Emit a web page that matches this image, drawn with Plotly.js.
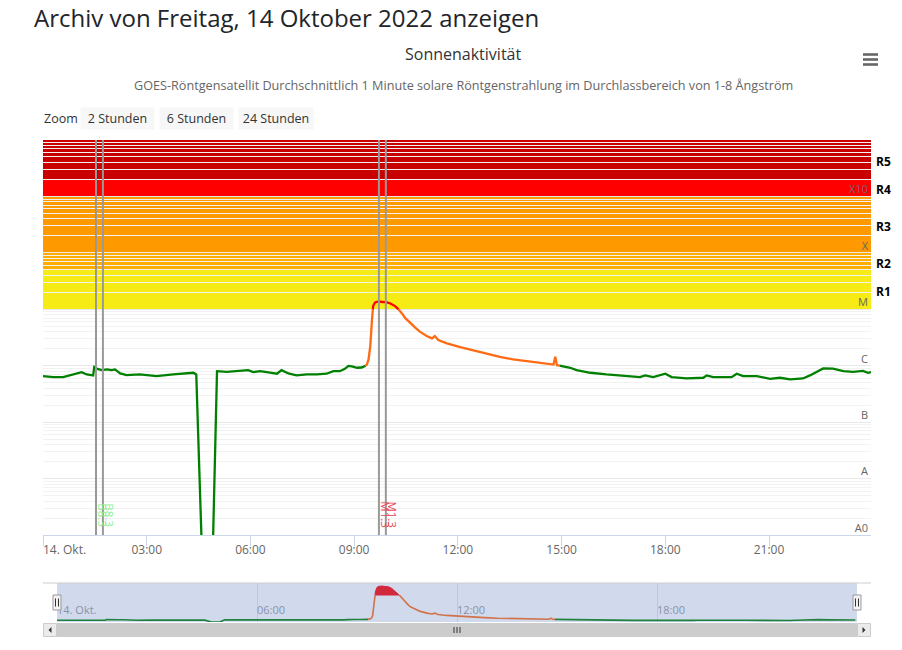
<!DOCTYPE html>
<html><head><meta charset="utf-8">
<script src="https://cdn.plot.ly/plotly-3.0.1.min.js"></script>
<style>html,body{margin:0;padding:0;background:#fff}#chart{width:902px;height:650px}</style>
</head><body><div id="chart"></div>
<script>
// ---- data ----
const times = ['00:00','00:18','00:35','00:47','00:58','01:07','01:16','01:27','01:29','01:33','01:42','01:51','01:59','02:05','02:14','02:25','02:48','03:17','03:46','04:09','04:21','04:26','04:38','04:53','05:02','05:19','05:42','05:56','06:05','06:17','06:34','06:46','06:54','07:06','07:20','07:38','07:55','08:12','08:24','08:35','08:44','08:50','08:56','09:05','09:13','09:18','09:22','09:25','09:28','09:31','09:33','09:36','09:39','09:45','09:51','09:57','10:02','10:06','10:11','10:16','10:20','10:24','10:28','10:33','10:37','10:42','10:46','10:54','11:06','11:15','11:20','11:26','11:41','12:04','12:27','12:50','13:13','13:36','14:00','14:23','14:46','14:49','14:52','15:15','15:26','15:50','16:18','16:47','17:16','17:25','17:39','18:00','18:11','18:37','19:06','19:12','19:23','19:55','20:04','20:15','20:39','21:02','21:19','21:37','21:59','22:11','22:29','22:34','22:51','23:09','23:26','23:43','23:52','23:57'];
const flux = [6.53e-7,6.27e-7,6.27e-7,6.81e-7,7.21e-7,7.7e-7,7.0e-7,6.73e-7,9.45e-7,8.85e-7,8.35e-7,8.6e-7,8.35e-7,8.6e-7,7.3e-7,6.81e-7,7.0e-7,6.53e-7,7.0e-7,7.21e-7,7.51e-7,7.0e-7,1e-10,1e-10,8.02e-7,7.8e-7,8.02e-7,8.35e-7,7.7e-7,8.02e-7,7.51e-7,7.21e-7,8.35e-7,7.3e-7,6.73e-7,7.0e-7,7.0e-7,7.21e-7,8.02e-7,8.0e-7,8.8e-7,9.9e-7,9.7e-7,9.2e-7,9.3e-7,9.6e-7,1.05e-6,1.29e-6,2.23e-6,6.64e-6,1.14e-5,1.31e-5,1.35e-5,1.36e-5,1.35e-5,1.33e-5,1.28e-5,1.21e-5,1.14e-5,1.02e-5,9.3e-6,8.2e-6,7.1e-6,6.3e-6,5.64e-6,5.15e-6,4.73e-6,4.02e-6,3.36e-6,3.05e-6,3.36e-6,2.85e-6,2.49e-6,2.14e-6,1.87e-6,1.65e-6,1.44e-6,1.29e-6,1.21e-6,1.13e-6,1.05e-6,1.44e-6,1.02e-6,9.2e-7,8.35e-7,7.5e-7,7.0e-7,6.53e-7,6.27e-7,6.73e-7,6.3e-7,7.2e-7,6.3e-7,5.95e-7,6.12e-7,6.73e-7,6.3e-7,6.27e-7,7.2e-7,6.53e-7,6.53e-7,5.87e-7,6.12e-7,5.71e-7,5.95e-7,6.73e-7,8.6e-7,8.95e-7,8.85e-7,8.02e-7,7.8e-7,8.1e-7,7.5e-7,7.7e-7];

const zoneThresholds = [1e-6, 1e-5];
const zoneColors = ['#008000', '#ff6a13', '#ff0000'];

const yTickVals = [1e-9, 1e-8, 1e-7, 1e-6, 1e-5, 1e-4, 1e-3];
const yTickText = ['A0', 'A', 'B', 'C', 'M', 'X', 'X10'];
const yRange = [1e-9, 1e-2];

const xTickTimes = ['00:00','03:00','06:00','09:00','12:00','15:00','18:00','21:00'];
const xTickText = ['', '03:00','06:00','09:00','12:00','15:00','18:00','21:00'];
const firstTickLabel = '14. Okt.';
const navTickTimes = ['00:00','06:00','12:00','18:00'];
const navTickText = ['14. Okt.','06:00','12:00','18:00'];
const navRange = ['00:00','24:00'];

const bandLow = [1e-5, 5e-5, 1e-4, 1e-3, 2e-3];
const bandHigh = [5e-5, 1e-4, 1e-3, 2e-3, 1e-2];
const bandColor = ['#f6eb14', '#ffae00', '#ff9900', '#ff0000', '#c80000'];
const bandLabel = ['R1', 'R2', 'R3', 'R4', 'R5'];

const flareStart = ['01:32', '09:43'];
const flareEnd = ['01:44', '09:55'];
const flareClass = ['B8.3', 'M1.3'];
const flareColor = ['#90ee90', '#e8434f'];

const headingText = 'Archiv von Freitag, 14 Oktober 2022 anzeigen';
const titleText = 'Sonnenaktivität';
const subtitleText = 'GOES-Röntgensatellit Durchschnittlich 1 Minute solare Röntgenstrahlung im Durchlassbereich von 1-8 Ångström';
const zoomLabel = 'Zoom';
const zoomButtons = ['2 Stunden', '6 Stunden', '24 Stunden'];

// ---- helpers ----
const W = 902, H = 650;
const T = s => { const p = s.split(':').map(Number); return Date.UTC(2022, 9, 14, p[0], p[1]); };
const px = x => x / W;
const py = y => 1 - y / H;
const xs = times.map(T);
const xFirst = xs[0], xLast = xs[xs.length - 1];

function splitZones(xv, vv, th) {
  const out = th.concat([0]).map(() => ({x: [], y: []}));
  const zoneOf = v => { let k = 0; while (k < th.length && v >= th[k]) k++; return k; };
  for (let i = 0; i < xv.length; i++) {
    const z = zoneOf(vv[i]);
    if (i > 0) {
      const zp = zoneOf(vv[i - 1]);
      if (zp !== z) {
        const lo = Math.min(zp, z), hi = Math.max(zp, z);
        let cr = [];
        for (let k = lo; k < hi; k++) {
          const t = th[k];
          const f = (Math.log(t) - Math.log(vv[i - 1])) / (Math.log(vv[i]) - Math.log(vv[i - 1]));
          cr.push({x: xv[i - 1] + f * (xv[i] - xv[i - 1]), y: t});
        }
        if (z < zp) cr.reverse();
        let cur = zp;
        for (const c of cr) {
          out[cur].x.push(c.x, null); out[cur].y.push(c.y, null);
          cur = z > zp ? cur + 1 : cur - 1;
          out[cur].x.push(c.x); out[cur].y.push(c.y);
        }
      }
    }
    out[z].x.push(xv[i]); out[z].y.push(vv[i]);
  }
  return out;
}

const zones = splitZones(xs, flux, zoneThresholds);
const traces = [];
zones.forEach((z, k) => {
  traces.push({x: z.x, y: z.y, xaxis: 'x', yaxis: 'y', type: 'scatter', mode: 'lines',
    line: {color: zoneColors[k], width: 2.3}, hoverinfo: 'skip', showlegend: false});
});
// navigator
zones.forEach((z, k) => {
  const isTop = k === zones.length - 1;
  traces.push({x: z.x, y: z.y, xaxis: 'x2', yaxis: 'y2', type: 'scatter', mode: 'lines',
    line: {color: zoneColors[k], width: isTop ? 1 : 1.6},
    fill: isTop ? 'toself' : 'none', fillcolor: zoneColors[k],
    hoverinfo: 'skip', showlegend: false});
});
const fluxMax = Math.max.apply(null, flux);

// ---- shapes ----
const shapes = [];
bandLow.forEach((lo, i) => {
  shapes.push({type: 'rect', xref: 'x domain', yref: 'y', x0: 0, x1: 1,
    y0: lo, y1: bandHigh[i], fillcolor: bandColor[i],
    line: {width: 0}, layer: 'below'});
});
flareStart.forEach((s, i) => {
  [s, flareEnd[i]].forEach(t => {
    shapes.push({type: 'line', xref: 'x', yref: 'y domain', x0: T(t), x1: T(t), y0: 0, y1: 1,
      line: {color: '#999999', width: 2}, layer: 'above'});
  });
});
// hamburger menu
[54.5, 59.5, 64.5].forEach(y => {
  shapes.push({type: 'line', xref: 'paper', yref: 'paper', x0: px(863), x1: px(878), y0: py(y), y1: py(y),
    line: {color: '#666666', width: 2.6}});
});
// navigator mask + outline
shapes.push({type: 'rect', xref: 'x2 domain', yref: 'y2 domain', x0: 0, x1: 1, y0: 0, y1: 1,
  fillcolor: 'rgba(102,133,194,0.3)', line: {width: 0}, layer: 'above'});
shapes.push({type: 'line', xref: 'paper', yref: 'paper', x0: px(43), x1: px(871), y0: py(583), y1: py(583),
  line: {color: '#cccccc', width: 1}, layer: 'above'});
// navigator handles
[0, 1].forEach(a => {
  shapes.push({type: 'rect', xref: 'x2 domain', xsizemode: 'pixel', xanchor: a, x0: -4, x1: 4,
    yref: 'y2 domain', ysizemode: 'pixel', yanchor: 0.5, y0: -7.5, y1: 7.5,
    fillcolor: '#f2f2f2', line: {color: '#999999', width: 1}, layer: 'above'});
  [-1.5, 1.5].forEach(d => {
    shapes.push({type: 'line', xref: 'x2 domain', xsizemode: 'pixel', xanchor: a, x0: d, x1: d,
      yref: 'y2 domain', ysizemode: 'pixel', yanchor: 0.5, y0: -4, y1: 4,
      line: {color: '#333333', width: 1}, layer: 'above'});
  });
});
// scrollbar
shapes.push({type: 'rect', xref: 'paper', yref: 'paper', x0: px(43), x1: px(871), y0: py(637), y1: py(623),
  fillcolor: '#f2f2f2', line: {width: 0}});
shapes.push({type: 'rect', xref: 'paper', yref: 'paper', x0: px(57), x1: px(857), y0: py(637), y1: py(623),
  fillcolor: '#cccccc', line: {width: 0}});
[[43, 57], [857, 871]].forEach(b => {
  shapes.push({type: 'rect', xref: 'paper', yref: 'paper', x0: px(b[0] + 0.5), x1: px(b[1] - 0.5), y0: py(636.5), y1: py(623.5),
    fillcolor: '#ebebeb', line: {color: '#cccccc', width: 1}});
});
shapes.push({type: 'path', xref: 'paper', yref: 'paper', fillcolor: '#333333', line: {width: 0},
  path: 'M' + px(48.5) + ',' + py(630) + ' L' + px(51.5) + ',' + py(627) + ' L' + px(51.5) + ',' + py(633) + ' Z'});
shapes.push({type: 'path', xref: 'paper', yref: 'paper', fillcolor: '#333333', line: {width: 0},
  path: 'M' + px(865.5) + ',' + py(630) + ' L' + px(862.5) + ',' + py(627) + ' L' + px(862.5) + ',' + py(633) + ' Z'});
[454, 457, 460].forEach(x => {
  shapes.push({type: 'line', xref: 'paper', yref: 'paper', x0: px(x), x1: px(x), y0: py(627), y1: py(633),
    line: {color: '#333333', width: 1}});
});

// ---- annotations ----
const ann = [];
ann.push({text: headingText, xref: 'paper', yref: 'paper', x: px(32), y: py(17), xanchor: 'left', yanchor: 'middle',
  showarrow: false, font: {family: 'Open Sans', size: 24, weight: 500, color: '#212529'}});
ann.push({text: titleText, xref: 'paper', yref: 'paper', x: px(463), y: py(54), xanchor: 'center', yanchor: 'middle',
  showarrow: false, font: {size: 16, color: '#333333'}});
ann.push({text: subtitleText, xref: 'paper', yref: 'paper', x: px(463), y: py(85), xanchor: 'center', yanchor: 'middle',
  showarrow: false, font: {size: 12.65, color: '#666666'}});
ann.push({text: zoomLabel, xref: 'paper', yref: 'paper', x: px(42), y: py(118.5), xanchor: 'left', yanchor: 'middle',
  showarrow: false, font: {size: 12.5, color: '#333333'}});
let bx = 81;
const bw = [73, 73, 74];
zoomButtons.forEach((b, i) => {
  ann.push({text: b, xref: 'paper', yref: 'paper', x: px(bx + bw[i] / 2), y: py(118.5), xanchor: 'center', yanchor: 'middle',
    width: bw[i] - 2, height: 19, bgcolor: '#f7f7f7', showarrow: false, font: {size: 12.5, color: '#333333'}});
  bx += bw[i] + 6;
});
bandLabel.forEach((l, i) => {
  ann.push({text: '<b>' + l + '</b>', xref: 'paper', yref: 'y', x: px(874), xanchor: 'left', yanchor: 'middle',
    y: (Math.log10(bandLow[i]) + Math.log10(bandHigh[i])) / 2, yshift: -2, showarrow: false,
    font: {size: 12, color: '#000000'}});
});
ann.push({text: firstTickLabel, xref: 'x', yref: 'paper', x: xFirst, y: py(549), xanchor: 'left', yanchor: 'middle',
  xshift: -2, showarrow: false, font: {size: 12, color: '#666666'}});
flareStart.forEach((s, i) => {
  [s, flareEnd[i]].forEach(t => {
    ann.push({text: flareClass[i], xref: 'x', yref: 'y domain', x: T(t), y: 0.05, xanchor: 'center', yanchor: 'middle',
      xshift: 7, textangle: 90, showarrow: false, font: {size: 11.5, color: flareColor[i]}});
  });
});

const layout = {
  width: W, height: H, margin: {l: 0, r: 0, t: 0, b: 0},
  paper_bgcolor: '#ffffff', plot_bgcolor: 'rgba(0,0,0,0)',
  font: {family: 'Open Sans', color: '#333333'},
  showlegend: false,
  xaxis: {type: 'date', domain: [px(43), px(871)], range: [xFirst, xLast], anchor: 'y',
    tickmode: 'array', tickvals: xTickTimes.map(T), ticktext: xTickText,
    ticks: 'outside', ticklen: 10, tickcolor: '#ccd6eb', tickwidth: 1, ticklabelstandoff: -6,
    showline: true, linecolor: '#ccd6eb', linewidth: 1, showgrid: false, zeroline: false,
    tickfont: {size: 12, color: '#666666'}, fixedrange: true},
  yaxis: {type: 'log', domain: [py(535), py(140)], range: [Math.log10(yRange[0]), Math.log10(yRange[1])], anchor: 'x',
    side: 'right', tickmode: 'array', tickvals: yTickVals, ticktext: yTickText,
    ticklabelposition: 'inside', ticklabelshift: -7, ticks: '', showline: false,
    gridcolor: '#e8e8e8', gridwidth: 1,
    minor: {dtick: 'D1', showgrid: true, gridcolor: '#f2f2f2', ticks: ''},
    tickfont: {size: 11, color: '#666666'}, fixedrange: true},
  xaxis2: {type: 'date', domain: [px(57), px(857)], range: navRange.map(T), anchor: 'y2',
    tickmode: 'array', tickvals: navTickTimes.map(T), ticktext: navTickText,
    ticklabelposition: 'inside right', ticks: '', showline: false, showgrid: true, gridcolor: '#e6e6e6',
    zeroline: false, tickfont: {size: 11, color: '#999999'}, fixedrange: true},
  yaxis2: {domain: [py(622), py(583)], range: [0, fluxMax * 1.085], anchor: 'x2',
    showgrid: false, showticklabels: false, zeroline: false, ticks: '', fixedrange: true},
  shapes: shapes,
  annotations: ann
};

Plotly.newPlot('chart', traces, layout, {displayModeBar: false, responsive: false});
</script>
</body></html>
